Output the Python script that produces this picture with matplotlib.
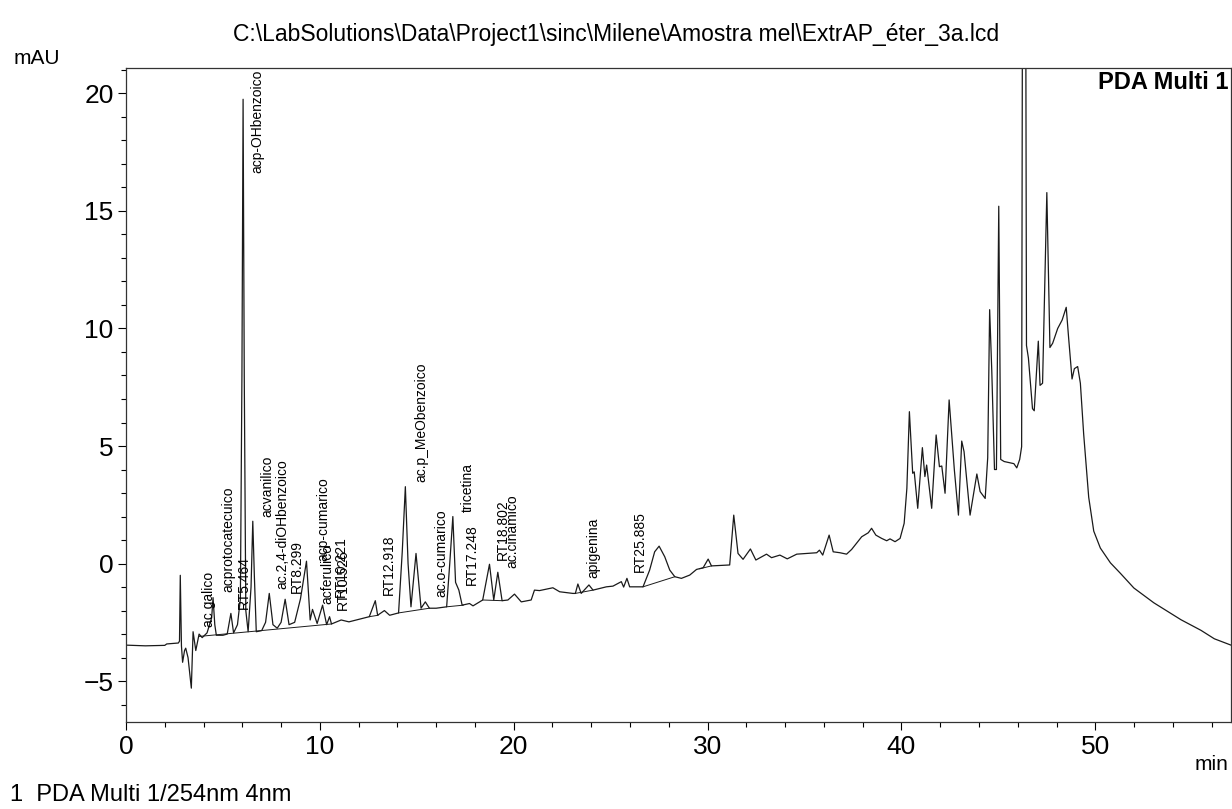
import numpy as np
import matplotlib
matplotlib.use("Agg")
import matplotlib.pyplot as plt
from matplotlib.ticker import MultipleLocator

plt.rcParams['font.family'] = ['Liberation Sans', 'DejaVu Sans']

title = r"C:\LabSolutions\Data\Project1\sinc\Milene\Amostra mel\ExtrAP_éter_3a.lcd"

# chromatogram trace (min, mAU)
time_min = [0.0, 1.0, 2.0, 2.1, 2.7, 2.76, 2.80, 2.86, 2.92, 3.02, 3.08, 3.2, 3.37, 3.46, 3.60,
            3.77, 3.93, 4.18, 4.42, 4.49, 4.58, 4.66, 5.0, 5.22, 5.41, 5.55, 5.75, 5.9, 5.98,
            6.04, 6.10, 6.18, 6.3, 6.45, 6.54, 6.62, 6.72, 7.0, 7.2, 7.39, 7.58, 7.8, 8.0,
            8.21, 8.41, 8.7, 9.0, 9.31, 9.5, 9.62, 9.86, 10.14, 10.35, 10.5, 10.6, 11.1, 11.5,
            12.55, 12.86, 12.98, 13.33, 13.6, 14.06, 14.25, 14.41, 14.55, 14.7, 14.96, 15.22,
            15.44, 15.65, 16.0, 16.54, 16.7, 16.86, 17.0, 17.17, 17.34, 17.72, 17.9, 18.4,
            18.75, 18.97, 19.18, 19.4, 19.7, 20.04, 20.39, 20.9, 21.07, 21.33, 22.02, 22.37,
            23.05, 23.18, 23.31, 23.48, 23.88, 24.09, 24.78, 25.12, 25.55, 25.67, 25.84, 25.98,
            26.58, 26.67, 27.01, 27.27, 27.50, 27.79, 28.05, 28.31, 28.65, 29.08, 29.43, 29.77,
            30.03, 30.2, 31.14, 31.35, 31.57, 31.83, 32.21, 32.49, 33.04, 33.3, 33.73, 34.11,
            34.6, 35.63, 35.77, 35.94, 36.27, 36.48, 36.83, 37.17, 37.43, 37.95, 38.29, 38.46,
            38.68, 38.98, 39.24, 39.41, 39.67, 39.93, 40.14, 40.28, 40.41, 40.58, 40.66, 40.84,
            41.08, 41.21, 41.30, 41.56, 41.79, 41.96, 42.08, 42.25, 42.46, 42.73, 42.94, 43.11,
            43.23, 43.54, 43.89, 44.06, 44.32, 44.45, 44.55, 44.66, 44.8, 44.9, 45.02, 45.12,
            45.3, 45.8, 45.95, 46.1, 46.2, 46.32, 46.45, 46.55, 46.76, 46.85, 47.06, 47.15,
            47.28, 47.50, 47.66, 47.80, 48.06, 48.29, 48.50, 48.62, 48.80, 48.92, 49.09, 49.23,
            49.40, 49.66, 49.92, 50.26, 50.78, 51.30, 51.99, 53.02, 54.42, 55.45, 56.14, 57.0]
signal_mau = [-3.47, -3.5, -3.48, -3.42, -3.38, -3.3, -0.5, -3.5, -4.2, -3.7, -3.6, -4.0, -5.3, -2.9, -3.7,
              -3.0, -3.15, -2.95, -2.3, -1.45, -2.6, -3.05, -3.05, -3.0, -2.12, -2.95, -2.6, -1.5, 8.0,
              19.75, 8.0, -2.0, -2.9, -1.0, 1.8, -0.5, -2.9, -2.85, -2.5, -1.27, -2.6, -2.75, -2.5,
              -1.52, -2.6, -2.5, -1.5, 0.1, -2.4, -1.95, -2.55, -1.77, -2.6, -2.26, -2.57, -2.4, -2.48,
              -2.26, -1.58, -2.2, -2.0, -2.2, -2.1, 0.5, 3.27, 0.0, -1.84, 0.43, -1.9,
              -1.63, -1.9, -1.9, -1.84, 0.0, 2.0, -0.8, -1.13, -1.77, -1.7, -1.8, -1.55,
              -0.03, -1.55, -0.37, -1.58, -1.55, -1.3, -1.63, -1.55, -1.13, -1.15, -1.03, -1.2,
              -1.27, -1.27, -0.87, -1.27, -0.91, -1.13, -0.99, -0.96, -0.77, -1.0, -0.63, -0.99,
              -0.99, -0.99, -0.28, 0.5, 0.74, 0.29, -0.28, -0.56, -0.63, -0.49, -0.25, -0.18,
              0.19, -0.1, -0.06, 2.06, 0.43, 0.18, 0.62, 0.15, 0.4, 0.25, 0.36, 0.2,
              0.4, 0.46, 0.57, 0.36, 1.21, 0.5, 0.46, 0.4, 0.6, 1.14, 1.31, 1.5,
              1.21, 1.07, 0.97, 1.05, 0.93, 1.07, 1.71, 3.2, 6.46, 3.84, 3.9, 2.35,
              4.93, 3.7, 4.19, 2.35, 5.47, 4.12, 4.15, 2.99, 6.96, 3.98, 2.06, 5.21,
              4.76, 2.06, 3.81, 3.06, 2.77, 4.5, 10.8, 8.2, 4.0, 4.0, 15.2, 4.43,
              4.34, 4.25, 4.07, 4.43, 4.97, 60.0, 9.28, 8.74, 6.59, 6.5, 9.46, 7.58,
              7.67, 15.78, 9.19, 9.37, 10.0, 10.36, 10.9, 9.64, 7.85, 8.29, 8.38, 7.67,
              5.51, 2.82, 1.38, 0.66, 0.03, -0.42, -1.04, -1.67, -2.39, -2.84, -3.2, -3.47]

# integration baselines drawn under the peaks (start time, start mAU, end time, end mAU)
base_t0 = [3.77, 12.55, 14.06, 16.54, 18.4, 23.18, 26.67, 29.6]
base_v0 = [-3.1, -2.26, -2.1, -1.84, -1.55, -1.27, -0.99, -0.22]
base_t1 = [10.6, 13.0, 15.65, 17.4, 19.4, 24.09, 28.31, 30.2]
base_v1 = [-2.57, -2.2, -1.9, -1.77, -1.58, -1.13, -0.56, -0.1]

# peak labels: name, retention time, text start height (mAU)
peak_names = ["ac galico", "acprotocatecuico", "RT5.464", "acp-OHbenzoico", "acvanilico",
              "ac.2,4-diOHbenzoico", "RT8.299", "acp-cumarico", "acferulico", "RT10.221",
              "RT10.526", "RT12.918", "ac.p_MeObenzoico", "ac.o-cumarico", "tricetina",
              "RT17.248", "RT18.802", "ac.cinamico", "apigenina", "RT25.885"]
peak_times = [3.77, 4.49, 5.41, 6.04, 6.54, 7.39, 8.21, 9.31, 9.62, 10.14,
              10.5, 12.86, 14.41, 15.44, 16.86, 17.17, 18.75, 19.18, 23.31, 25.84]
label_y = [-2.7, -1.2, -1.94, 16.6, 2.0, -1.1, -1.26, 0.1, -1.7, -1.41,
           -1.98, -1.34, 3.48, -1.41, 2.2, -0.91, 0.15, -0.2, -0.63, -0.35]
label_dx = [3, 8, 6, 7, 8, 6, 5, 10, 8, 11, 6, 7, 9, 9, 8, 6, 6, 8, 8, 6]

W, H = 1232, 809
fig = plt.figure(figsize=(W / 100, H / 100), dpi=100)
ax = fig.add_axes([126 / W, 1 - 722 / H, (1231 - 126) / W, (722 - 68) / H])

ax.plot(time_min, signal_mau, color='#1a1a1a', lw=0.9)
for a, b, c, d in zip(base_t0, base_v0, base_t1, base_v1):
    ax.plot([a, c], [b, d], color='#1a1a1a', lw=0.7)

for name, t, y, dx in zip(peak_names, peak_times, label_y, label_dx):
    ax.annotate(name, xy=(t, y), xytext=(dx * 0.72, 0), textcoords='offset points',
                rotation=90, ha='left', va='bottom', fontsize=10, color='black')

ax.set_xlim(0, 57.0)
ax.set_ylim(-6.74, 21.08)
ax.xaxis.set_major_locator(MultipleLocator(10))
ax.xaxis.set_minor_locator(MultipleLocator(2))
ax.yaxis.set_major_locator(MultipleLocator(5))
ax.yaxis.set_minor_locator(MultipleLocator(1))
ax.tick_params(which='major', direction='out', length=6, width=0.8, labelsize=19, pad=3)
ax.tick_params(which='minor', direction='out', length=3.5, width=0.8)
for s in ax.spines.values():
    s.set_linewidth(0.9)
    s.set_color('#333333')

ax.text(0.998, 0.995, "PDA Multi 1", transform=ax.transAxes, ha='right', va='top',
        fontsize=17, fontweight='bold')

fig.text(616 / W, 1 - 35 / H, title, ha='center', va='center', fontsize=16.5)
fig.text(37 / W, 1 - 58 / H, "mAU", ha='center', va='center', fontsize=15)
fig.text(1228 / W, 1 - 765 / H, "min", ha='right', va='center', fontsize=15)
fig.text(10 / W, 1 - 795 / H, "1  PDA Multi 1/254nm 4nm", ha='left', va='center', fontsize=17)

fig.savefig("out.png", dpi=100)
